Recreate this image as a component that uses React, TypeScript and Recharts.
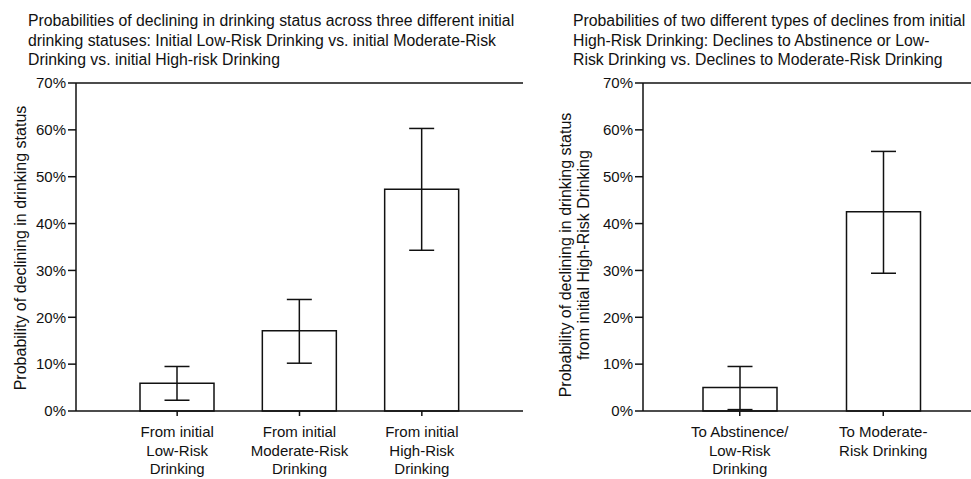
import React from 'react';
import { BarChart, Bar, XAxis, YAxis, ErrorBar, ReferenceLine } from 'recharts';

const FONT = '"Liberation Sans", Arial, Helvetica, sans-serif';
const INK = '#111';

// left panel
const leftTitle = [
  'Probabilities of declining in drinking status across three different initial',
  'drinking statuses: Initial Low-Risk Drinking vs. initial Moderate-Risk',
  'Drinking vs. initial High-risk Drinking',
];
const leftCategories = [
  'From initial\nLow-Risk\nDrinking',
  'From initial\nModerate-Risk\nDrinking',
  'From initial\nHigh-Risk\nDrinking',
];
const leftValues = [5.9, 17.1, 47.3];
const leftLow = [2.3, 10.2, 34.3];
const leftHigh = [9.5, 23.8, 60.3];
const leftYLabel = ['Probability of declining in drinking status'];

// right panel
const rightTitle = [
  'Probabilities of two different types of declines from initial',
  'High-Risk Drinking: Declines to Abstinence or Low-',
  'Risk Drinking vs. Declines to Moderate-Risk Drinking',
];
const rightCategories = ['To Abstinence/\nLow-Risk\nDrinking', 'To Moderate-\nRisk Drinking'];
const rightValues = [5.0, 42.5];
const rightLow = [0.3, 29.4];
const rightHigh = [9.5, 55.4];
const rightYLabel = ['Probability of declining in drinking status', 'from initial High-Risk Drinking'];

const yTicks = [0, 10, 20, 30, 40, 50, 60, 70];

const buildRows = (cats: string[], vals: number[], lo: number[], hi: number[]) =>
  cats.map((name, i) => ({
    name,
    value: vals[i],
    err: [vals[i] - lo[i], hi[i] - vals[i]],
  }));

const MultiTick = (props: any) => {
  const { x, y, payload } = props;
  const lines = String(payload.value).split('\n');
  return (
    <text x={x} y={y} textAnchor="middle" fill={INK} fontSize={15} fontFamily={FONT}>
      {lines.map((l, i) => (
        <tspan key={i} x={x} dy={i === 0 ? 21 : 18.7}>
          {l}
        </tspan>
      ))}
    </text>
  );
};

const YLabel = ({ viewBox, lines, left, gap, shift }: any) => {
  const cy = viewBox.y + viewBox.height / 2 + (shift || 0);
  return (
    <g>
      {lines.map((l: string, i: number) => (
        <text
          key={i}
          transform={`translate(${viewBox.x + left + i * gap},${cy}) rotate(-90)`}
          textAnchor="middle"
          dy="0.36em"
          fill={INK}
          fontSize={16}
          fontFamily={FONT}
        >
          {l}
        </text>
      ))}
    </g>
  );
};

const Title = ({ lines, left }: { lines: string[]; left: number }) => (
  <div
    style={{
      position: 'absolute',
      left,
      top: 11,
      fontFamily: FONT,
      fontSize: 15.8,
      lineHeight: '19.5px',
      color: INK,
      whiteSpace: 'nowrap',
    }}
  >
    {lines.map((l, i) => (
      <div key={i}>{l}</div>
    ))}
  </div>
);

const axisLine = { stroke: INK, strokeWidth: 1.5 };
const tickStyle = { fill: INK, fontSize: 15, fontFamily: FONT };

const Panel = ({ rows, width, axisW, pad, framed, yLines, labelLeft, labelShift }: any) => (
  <BarChart
    width={width}
    height={479}
    data={rows}
    margin={{ top: 83, right: framed ? 17 : 0, bottom: 0, left: 0 }}
    style={{ fontFamily: FONT }}
  >
    <XAxis
      dataKey="name"
      interval={0}
      tick={<MultiTick />}
      tickSize={5}
      tickMargin={0}
      tickLine={axisLine}
      axisLine={axisLine}
      height={68}
      padding={pad}
    />
    <YAxis
      domain={[0, 70]}
      ticks={yTicks}
      interval={0}
      width={axisW}
      tickSize={8}
      tickMargin={2}
      tick={tickStyle}
      tickLine={axisLine}
      axisLine={axisLine}
      tickFormatter={(v: number) => `${v}%`}
      label={<YLabel lines={yLines} left={labelLeft} gap={17.5} shift={labelShift} />}
    />
    {framed && (
      <YAxis
        yAxisId="frame"
        orientation="right"
        domain={[0, 70]}
        width={0}
        tick={false}
        tickLine={false}
        axisLine={axisLine}
      />
    )}
    <ReferenceLine y={70} stroke={INK} strokeWidth={1.5} ifOverflow="visible" />
    <Bar dataKey="value" fill="#fff" stroke={INK} strokeWidth={1.5} barSize={74} isAnimationActive={false}>
      <ErrorBar dataKey="err" direction="y" width={12.5} stroke={INK} strokeWidth={1.5} />
    </Bar>
  </BarChart>
);

export default function App() {
  const leftRows = buildRows(leftCategories, leftValues, leftLow, leftHigh);
  const rightRows = buildRows(rightCategories, rightValues, rightLow, rightHigh);
  return (
    <div
      style={{
        position: 'absolute',
        left: 0,
        top: 0,
        width: 971,
        height: 479,
        overflow: 'hidden',
        background: '#fff',
        fontFamily: FONT,
      }}
    >
      <Title lines={leftTitle} left={28} />
      <Title lines={rightTitle} left={573} />
      <div style={{ position: 'absolute', left: 0, top: 0 }}>
        <Panel
          rows={leftRows}
          width={540}
          axisW={76}
          pad={{ left: 40, right: 40 }}
          framed
          yLines={leftYLabel}
          labelLeft={20}
          labelShift={1}
        />
      </div>
      <div style={{ position: 'absolute', left: 540, top: 0 }}>
        <Panel
          rows={rightRows}
          width={440}
          axisW={103}
          pad={{ left: 25, right: 25 }}
          framed={false}
          yLines={rightYLabel}
          labelLeft={25.5}
          labelShift={8}
        />
      </div>
    </div>
  );
}
